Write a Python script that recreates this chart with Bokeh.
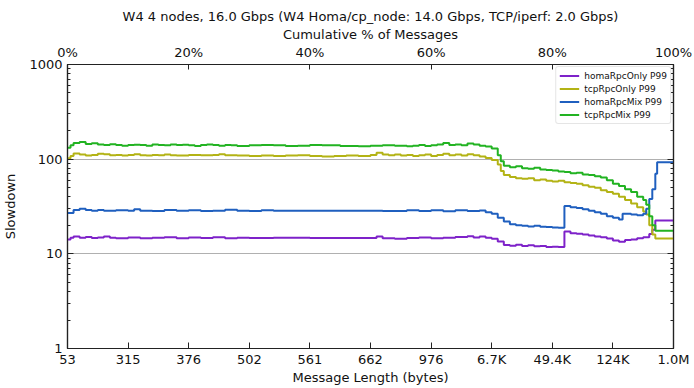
from bokeh.plotting import figure
from bokeh.models import (FixedTicker, LinearAxis, LogAxis, Range1d, Legend)
from bokeh.embed import file_html
from bokeh.resources import INLINE

# ---------------- data (x = cumulative % of messages, y = P99 slowdown) -------------
bottom_tick_pcts = [0, 10, 20, 30, 40, 50, 60, 70, 80, 90, 100]
bottom_tick_labels = ["53", "315", "376", "502", "561", "662", "976", "6.7K", "49.4K", "124K", "1.0M"]
top_tick_pcts = [0, 20, 40, 60, 80, 100]
top_tick_labels = ["0%", "20%", "40%", "60%", "80%", "100%"]

tcp_mix_x = [0, 0.5, 1, 2, 3, 4, 5, 6, 7, 8, 9, 10, 11, 12, 13, 14, 15, 16, 17, 18, 19, 20, 21, 22,
             23, 24, 25, 26, 27, 28, 30, 32, 34, 36, 38, 40, 42, 45, 48, 50, 52, 54, 56, 57, 58, 59,
             60, 61, 62, 63, 64, 65, 66, 67, 68, 69, 70, 71, 71.5, 72, 73, 74, 75, 76, 77, 78, 79,
             80, 81, 82, 83, 84, 85, 86, 87, 88, 89, 90, 91, 92, 93, 94, 95, 95.5, 96, 96.5, 97, 100]
tcp_mix_y = [132, 140, 148, 152, 145, 147, 143, 141, 144, 141, 139, 141, 142, 141, 139, 143, 141, 140,
             143, 141, 142, 140, 138, 141, 143, 141, 139, 141, 140, 138, 140, 141, 140, 138, 139, 141,
             140, 138, 137, 139, 140, 139, 137, 139, 141, 138, 140, 143, 148, 141, 143, 140, 146, 143,
             139, 136, 130, 110, 95, 85, 82, 84, 80, 79, 81, 78, 77, 76, 74, 73, 71, 72, 69, 68, 66,
             64, 60, 55, 52, 48, 45, 40, 37, 33, 25, 20, 17.5, 17.5]

tcp_only_x = [0, 0.5, 1, 2, 3, 4, 5, 6, 7, 8, 9, 10, 11, 12, 13, 14, 15, 16, 17, 18, 20, 22, 24, 25,
              26, 28, 30, 32, 34, 36, 38, 40, 42, 44, 46, 48, 50, 51, 52, 53, 54, 55, 56, 57, 58, 59,
              60, 61, 62, 63, 64, 65, 66, 67, 68, 69, 70, 71, 71.5, 72, 73, 74, 75, 76, 77, 78, 79,
              80, 81, 82, 83, 84, 85, 86, 87, 88, 89, 90, 91, 92, 93, 94, 95, 95.5, 96, 96.5, 97, 100]
tcp_only_y = [102, 108, 115, 112, 109, 111, 114, 113, 110, 111, 109, 111, 113, 110, 109, 111, 110, 112,
              110, 109, 111, 110, 111, 113, 110, 109, 108, 109, 108, 109, 110, 108, 107, 108, 109, 108,
              111, 117, 112, 110, 112, 109, 111, 108, 110, 112, 108, 111, 114, 110, 112, 109, 113, 110,
              107, 103, 98, 88, 75, 68, 65, 63, 62, 63, 60, 61, 59, 58, 59, 57, 56, 55, 53, 51, 50,
              47, 45, 43, 40, 37, 34, 31, 28, 26, 20, 16, 14.5, 14.5]

homa_mix_x = [0, 1, 2, 3, 4, 5, 6, 8, 10, 11, 12, 14, 16, 18, 20, 22, 24, 26, 28, 30, 32, 34, 36, 40,
              44, 48, 52, 56, 58, 60, 62, 64, 66, 68, 69, 70, 71, 72, 73, 74, 75, 76, 77, 78, 79, 80,
              81, 82, 83, 84, 85, 86, 87, 88, 89, 90, 91, 91.6, 93, 94, 95, 95.5, 96, 96.5, 97, 97.3, 100]
homa_mix_y = [27, 29, 30, 29, 28.5, 29, 28.5, 28.8, 28.5, 29.5, 28.5, 28.3, 29, 28.5, 28.8, 28.3, 28.6,
              29.2, 28.5, 28.4, 28.8, 28.5, 28.6, 28.5, 28.6, 28.5, 28.4, 28.9, 28.4, 28.8, 28.2, 28.9,
              28.4, 28.7, 27.5, 26.5, 24, 22, 20.5, 20, 19.8, 19.5, 19.8, 19.3, 19.2, 19.0, 18.9, 32, 31,
              30.5, 29.5, 28.5, 27.5, 26.5, 25, 24, 23, 26.5, 26, 25.5, 26.5, 30, 38, 48, 70, 93, 93]

homa_only_x = [0, 0.5, 1, 2, 3, 4, 5, 6, 7, 8, 10, 12, 14, 16, 18, 20, 22, 24, 26, 28, 30, 34, 40, 46,
               51, 52, 54, 56, 58, 60, 62, 64, 66, 67, 68, 69, 70, 71, 72, 73, 74, 75, 76, 77, 78, 79,
               80, 81, 82, 83, 84, 85, 86, 87, 88, 89, 90, 91, 92, 93, 94, 95, 96, 96.5, 97, 100]
homa_only_y = [14.2, 14.8, 15.2, 14.8, 15.1, 14.7, 14.9, 15.2, 14.8, 14.6, 14.9, 14.6, 14.8, 15.0, 14.6,
               14.9, 14.7, 15.0, 14.6, 14.8, 14.7, 14.8, 14.7, 14.7, 15.2, 14.6, 14.4, 14.7, 14.9, 14.6,
               14.8, 15.1, 15.3, 14.9, 15.2, 14.8, 14.4, 13.5, 12.4, 12.2, 12.5, 12.1, 12.3, 12.0, 12.1,
               11.8, 11.9, 11.8, 17.2, 16.5, 16.3, 16.0, 15.6, 15.2, 15.0, 14.5, 13.8, 13.4, 14.0, 14.2,
               14.6, 15.0, 16.2, 18, 22.5, 22.5]

series = [
    ("homaRpcOnly P99", homa_only_x, homa_only_y, "#7e22c9"),
    ("tcpRpcOnly P99", tcp_only_x, tcp_only_y, "#b3b315"),
    ("homaRpcMix P99", homa_mix_x, homa_mix_y, "#1f5fbf"),
    ("tcpRpcMix P99", tcp_mix_x, tcp_mix_y, "#22b322"),
]

FONT = "DejaVu Sans"

p = figure(frame_width=606, frame_height=284, output_backend="svg", toolbar_location=None,
           x_range=Range1d(0, 100), y_range=Range1d(1, 1000), y_axis_type="log",
           x_axis_location=None, y_axis_location=None,
           min_border_left=59, min_border_right=19, min_border_top=0, min_border_bottom=0)

p.title.text = "W4 4 nodes, 16.0 Gbps (W4 Homa/cp_node: 14.0 Gbps, TCP/iperf: 2.0 Gbps)"
p.title.align = "center"
p.title.text_font = FONT
p.title.text_font_size = "13px"
p.title.text_font_style = "normal"
p.title.text_color = "#111111"
p.title.standoff = 0
if "padding" in p.title.properties():
    try:
        p.title.padding = dict(left=0, right=0, top=6, bottom=0)
    except Exception:
        p.title.padding = 3

p.background_fill_color = "white"
p.border_fill_color = "white"
p.outline_line_color = "#222222"
p.outline_line_width = 1.2

major_y = [1, 10, 100, 1000]
minor_y = [m * d for d in (1, 10, 100) for m in range(2, 10)]


def style_axis(ax, tick_in=6, minor_in=3):
    ax.axis_line_color = "#222222"
    ax.axis_line_width = 1.2
    ax.major_tick_in = tick_in
    ax.major_tick_out = 0
    ax.minor_tick_in = minor_in
    ax.minor_tick_out = 0
    ax.major_tick_line_color = "#222222"
    ax.minor_tick_line_color = "#222222"
    ax.major_label_text_font = FONT
    ax.major_label_text_font_size = "13px"
    ax.major_label_text_color = "#111111"
    ax.axis_label_text_font = FONT
    ax.axis_label_text_font_size = "13px"
    ax.axis_label_text_font_style = "normal"
    ax.axis_label_text_color = "#111111"


# bottom axis
xb = LinearAxis(ticker=FixedTicker(ticks=bottom_tick_pcts),
                major_label_overrides={t: l for t, l in zip(bottom_tick_pcts, bottom_tick_labels)},
                axis_label="Message Length (bytes)")
style_axis(xb)
xb.major_label_standoff = 3
xb.axis_label_standoff = 0
xb.axis_label_text_line_height = 1.0
p.add_layout(xb, "below")

# top axis
xt = LinearAxis(ticker=FixedTicker(ticks=top_tick_pcts),
                major_label_overrides={t: l for t, l in zip(top_tick_pcts, top_tick_labels)},
                axis_label="Cumulative % of Messages")
style_axis(xt, tick_in=5)
xt.major_label_standoff = 5
xt.axis_label_standoff = 0
xt.axis_label_text_line_height = 1.0
p.add_layout(xt, "above")

# left axis
yl = LogAxis(ticker=FixedTicker(ticks=major_y, minor_ticks=minor_y),
             major_label_overrides={t: str(t) for t in major_y},
             axis_label="Slowdown")
style_axis(yl)
yl.major_label_standoff = 5
yl.axis_label_standoff = 8
p.add_layout(yl, "left")

# right axis (ticks only)
yr = LogAxis(ticker=FixedTicker(ticks=major_y, minor_ticks=minor_y),
             major_label_overrides={t: " " for t in major_y})
style_axis(yr)
yr.major_label_text_font_size = "2px"
yr.major_label_standoff = 0
p.add_layout(yr, "right")

p.xgrid.visible = False
p.ygrid.ticker = FixedTicker(ticks=[10, 100])
p.ygrid.grid_line_color = "#b0b0b0"
p.ygrid.grid_line_width = 1

items = []
for name, xs, ys, col in series:
    r = p.step(xs, ys, mode="after", line_color=col, line_width=2)
    items.append((name, [r]))

legend = Legend(items=items, location="top_right")
legend.label_text_font = FONT
legend.label_text_font_size = "9px"
legend.label_text_color = "#111111"
legend.label_height = 11
legend.glyph_height = 11
legend.glyph_width = 20
legend.spacing = 2
legend.padding = 3
legend.margin = 2
legend.border_line_color = "#cccccc"
legend.border_radius = 3
legend.background_fill_alpha = 0.9
p.add_layout(legend, "center")

open("out.html", "w").write(file_html(p, INLINE))
